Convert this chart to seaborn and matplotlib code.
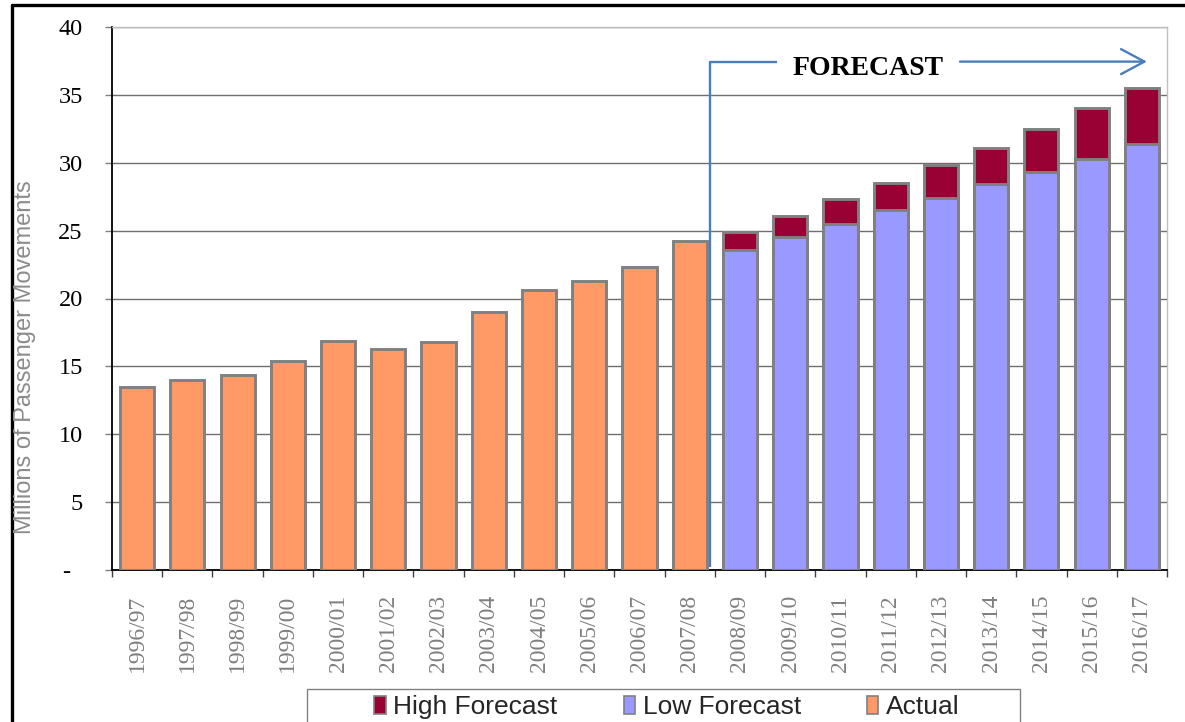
import numpy as np
import pandas as pd
import matplotlib
matplotlib.use("Agg")
import matplotlib.pyplot as plt
from matplotlib.patches import Patch, Rectangle
from matplotlib.lines import Line2D
import seaborn as sns

# ---------------- data ----------------
years = ["1996/97", "1997/98", "1998/99", "1999/00", "2000/01", "2001/02", "2002/03",
         "2003/04", "2004/05", "2005/06", "2006/07", "2007/08", "2008/09", "2009/10",
         "2010/11", "2011/12", "2012/13", "2013/14", "2014/15", "2015/16", "2016/17"]
actual_years = years[:12]
actual = [13.5, 14.0, 14.4, 15.4, 16.9, 16.3, 16.8, 19.0, 20.6, 21.3, 22.3, 24.2]
forecast_years = years[12:]
low_forecast = [23.6, 24.5, 25.5, 26.5, 27.4, 28.4, 29.3, 30.3, 31.4]
high_forecast = [24.9, 26.1, 27.3, 28.5, 29.8, 31.1, 32.5, 34.0, 35.5]  # totals
series_order = ["High Forecast", "Low Forecast", "Actual"]
colors = {"High Forecast": "#990033", "Low Forecast": "#9999FF", "Actual": "#FF9966"}
ytick_vals = [0, 5, 10, 15, 20, 25, 30, 35, 40]
ytick_labels = ["-  ", "5", "10", "15", "20", "25", "30", "35", "40"]

df = pd.concat([
    pd.DataFrame({"year": forecast_years, "value": high_forecast, "series": "High Forecast"}),
    pd.DataFrame({"year": forecast_years, "value": low_forecast, "series": "Low Forecast"}),
    pd.DataFrame({"year": actual_years, "value": actual, "series": "Actual"}),
], ignore_index=True)

# ---------------- figure ----------------
sns.set_theme(style="white")
plt.rcParams["font.family"] = ["Liberation Serif", "DejaVu Serif"]

W, H = 1185, 722
fig = plt.figure(figsize=(W / 100, H / 100), dpi=100)
ax = fig.add_axes([112 / W, 1 - 570 / H, (1167 - 112) / W, (570 - 27) / H])

sns.barplot(data=df, x="year", y="value", hue="series", hue_order=series_order,
            order=years, palette=colors, dodge=False, width=0.68,
            edgecolor="#808080", linewidth=2.1, saturation=1, ax=ax, zorder=3)
if ax.get_legend() is not None:
    ax.get_legend().remove()

ax.set_xlim(-0.5, len(years) - 0.5)
ax.set_ylim(0, 40)
ax.set_yticks(ytick_vals)
ax.set_yticklabels(ytick_labels, fontsize=17.5, color="black")
ax.yaxis.grid(True, color="#6E6E6E", linewidth=1.0, zorder=0)
ax.set_axisbelow(True)
ax.tick_params(axis="y", which="major", length=5, width=1, color="#808080",
               pad=16, left=True)

ax.set_xticks(range(len(years)))
ax.set_xticklabels(years, rotation=90, fontsize=17, color="#7F7F7F",
                   va="top", ha="center")
ax.tick_params(axis="x", which="major", length=0, pad=18)
ax.set_xticks(np.arange(-0.5, len(years), 1), minor=True)
ax.tick_params(axis="x", which="minor", length=5, width=1, color="#404040",
               bottom=True)
ax.set_xlabel("")
ax.set_ylabel("")

for side in ["top", "right"]:
    ax.spines[side].set_visible(True)
    ax.spines[side].set_color("#BFBFBF")
    ax.spines[side].set_linewidth(1.0)
for side in ["left", "bottom"]:
    ax.spines[side].set_color("black")
    ax.spines[side].set_linewidth(1.3)

fig.text(25 / W, 1 - 357 / H, "Millions of Passenger Movements", rotation=90,
         ha="center", va="center", fontsize=17, color="#8C8C8C",
         family="Liberation Sans")

# ---------------- forecast annotation ----------------
blue = "#4A7EBB"
split_x = 11.4
arrow_y = 37.45
ax.plot([split_x, split_x, 12.73], [0.25, arrow_y, arrow_y], color=blue, lw=1.7,
        zorder=4, solid_capstyle="butt")
ax.text(14.55, arrow_y - 0.5, "FORECAST", ha="center", va="center", fontsize=20,
        fontweight="bold", color="black", zorder=5)
ax.annotate("", xy=(20.1, arrow_y), xytext=(16.38, arrow_y),
            arrowprops=dict(arrowstyle="->,head_length=1.4,head_width=0.75",
                            color=blue, lw=1.7, shrinkA=0, shrinkB=0), zorder=5)

# ---------------- legend ----------------
handles = [Patch(facecolor=colors[s], edgecolor="#808080", linewidth=1.2) for s in series_order]
fig.add_artist(Rectangle((307 / W, 1 - 735 / H), (1020 - 307) / W, (735 - 689) / H,
                         transform=fig.transFigure, facecolor="white",
                         edgecolor="#808080", linewidth=1.0))
leg = fig.legend(handles, series_order, loc="upper center", ncol=3,
                 bbox_to_anchor=(667 / W, 1 - 695 / H), frameon=False,
                 prop={"family": "Liberation Sans", "size": 19},
                 handlelength=0.42, handleheight=0.65, handletextpad=0.3,
                 columnspacing=2.5, borderpad=0, borderaxespad=0)

# ---------------- outer border ----------------
fig.add_artist(Line2D([12 / W, 12 / W], [0, 1 - 5 / H], transform=fig.transFigure,
                      color="black", lw=2.4))
fig.add_artist(Line2D([12 / W, 1], [1 - 5 / H, 1 - 5 / H], transform=fig.transFigure,
                      color="black", lw=2.4))

fig.savefig("out.png", dpi=100)
